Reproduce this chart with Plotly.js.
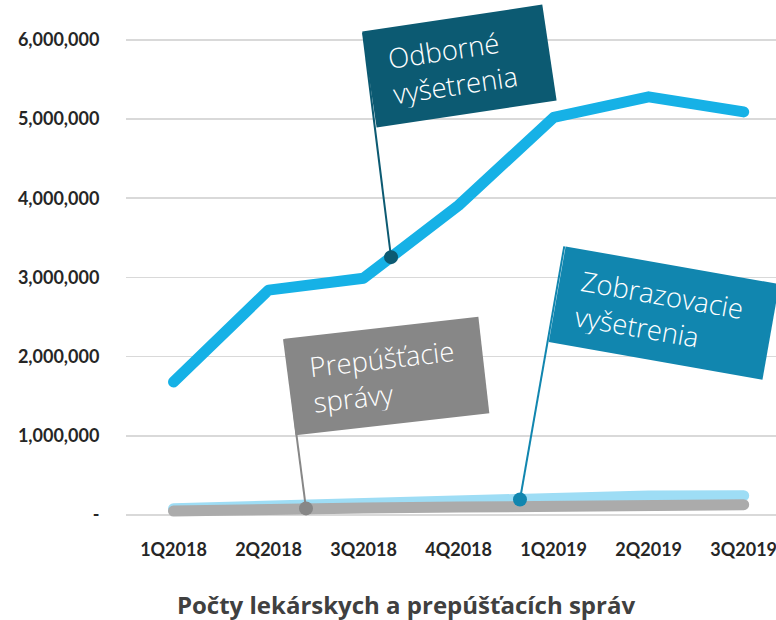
<!DOCTYPE html>
<html>
<head>
<meta charset="utf-8">
<script src="https://cdn.plot.ly/plotly-3.0.1.min.js"></script>
<style>
html, body { margin: 0; padding: 0; background: #fff; }
#chart { width: 776px; height: 620px; }
.scatterlayer .js-line { stroke-linecap: round !important; stroke-linejoin: round !important; }
</style>
</head>
<body>
<div id="chart"></div>
<script>
// ---- data ----
const categories = ['1Q2018', '2Q2018', '3Q2018', '4Q2018', '1Q2019', '2Q2019', '3Q2019'];
const odborne = [1680000, 2840000, 2990000, 3910000, 5020000, 5280000, 5090000];
const zobrazovacie = [80000, 120000, 140000, 170000, 210000, 240000, 245000];
const prepustacie = [50000, 80000, 90000, 100000, 110000, 125000, 130000];
const yTickVals = [0, 1000000, 2000000, 3000000, 4000000, 5000000, 6000000];
const yTickText = ['-', '1,000,000', '2,000,000', '3,000,000', '4,000,000', '5,000,000', '6,000,000'];
const chartTitle = 'Počty lekárskych a prepúšťacích správ';
const flagTexts = ['Odborné<br>vyšetrenia', 'Zobrazovacie<br>vyšetrenia', 'Prepúšťacie<br>správy'];

// ---- styling ----
const cOdb = '#16B1E6', cZob = '#9EDDF5', cPre = '#ABABAB';
const fOdb = '#0C5A72', fZob = '#1186AF', fPre = '#878787';

function onLine(series, xi) {
  const i = Math.floor(xi), t = xi - i;
  return series[i] + (series[i + 1] - series[i]) * t;
}

const traces = [
  { x: categories, y: zobrazovacie, type: 'scatter', mode: 'lines', line: { color: cZob, width: 11 }, hoverinfo: 'skip' },
  { x: categories, y: prepustacie, type: 'scatter', mode: 'lines', line: { color: cPre, width: 11 }, hoverinfo: 'skip' },
  { x: categories, y: odborne, type: 'scatter', mode: 'lines', line: { color: cOdb, width: 11 }, hoverinfo: 'skip' }
];

// flag definitions: pole top (data coords), pole foot x, flag centre, angle
const flags = [
  { series: odborne, footX: 2.289, topX: 1.994, topY: 6092000, cx: 3.011, cy: 5664000, ang: -8.5, col: fOdb, w: 181, text: flagTexts[0] },
  { series: zobrazovacie, footX: 3.646, topX: 4.112, topY: 3393000, cx: 5.159, cy: 2548000, ang: 10, col: fZob, w: 216, text: flagTexts[1] },
  { series: prepustacie, footX: 1.394, topX: 1.163, topY: 2220000, cx: 2.244, cy: 1753000, ang: -6.5, col: fPre, w: 194, text: flagTexts[2] }
];

const shapes = [], annotations = [];
flags.forEach(f => {
  const fy = onLine(f.series, f.footX);
  shapes.push({ type: 'line', xref: 'x', yref: 'y', x0: f.topX, y0: f.topY, x1: f.footX, y1: fy, line: { color: f.col, width: 2 } });
  shapes.push({ type: 'circle', xref: 'x', yref: 'y', xsizemode: 'pixel', ysizemode: 'pixel', xanchor: f.footX, yanchor: fy,
    x0: -7, x1: 7, y0: -7, y1: 7, fillcolor: f.col, line: { width: 0 } });
  annotations.push({ xref: 'x', yref: 'y', x: f.cx, y: f.cy, xanchor: 'center', yanchor: 'middle', showarrow: false,
    text: '&nbsp;' + f.text.replace('<br>', '<br>&nbsp;'), align: 'left', textangle: f.ang, bgcolor: f.col, borderpad: 14,
    width: f.w - 28, height: 68, font: { family: 'Open Sans', size: 27.5, color: '#ffffff', weight: 300 } });
});

const layout = {
  width: 776, height: 620, autosize: false,
  margin: { l: 126, r: 0, t: 23.5, b: 101, pad: 0 },
  paper_bgcolor: '#ffffff', plot_bgcolor: '#ffffff',
  showlegend: false,
  title: { text: chartTitle, xref: 'container', yref: 'container', x: 406 / 776, xanchor: 'center', y: 1 - 606 / 620, yanchor: 'middle',
    font: { family: 'Open Sans', size: 24, color: '#404040', weight: 700 } },
  xaxis: { type: 'category', range: [-0.5, 6.34], showgrid: false, zeroline: false, showline: false,
    ticks: 'outside', ticklen: 14, tickcolor: 'rgba(0,0,0,0)', fixedrange: true,
    tickfont: { family: 'Lato', size: 18, color: '#262626', weight: 700 } },
  yaxis: { range: [-50000, 6200000], tickvals: yTickVals, ticktext: yTickText, showgrid: true, gridcolor: '#D9D9D9', gridwidth: 1.5,
    zeroline: false, showline: false, ticks: 'outside', ticklen: 22, tickcolor: 'rgba(0,0,0,0)', fixedrange: true,
    tickfont: { family: 'Lato', size: 18, color: '#262626', weight: 700 } },
  shapes: shapes,
  annotations: annotations
};

Plotly.newPlot('chart', traces, layout, { displayModeBar: false, staticPlot: true });
</script>
</body>
</html>
